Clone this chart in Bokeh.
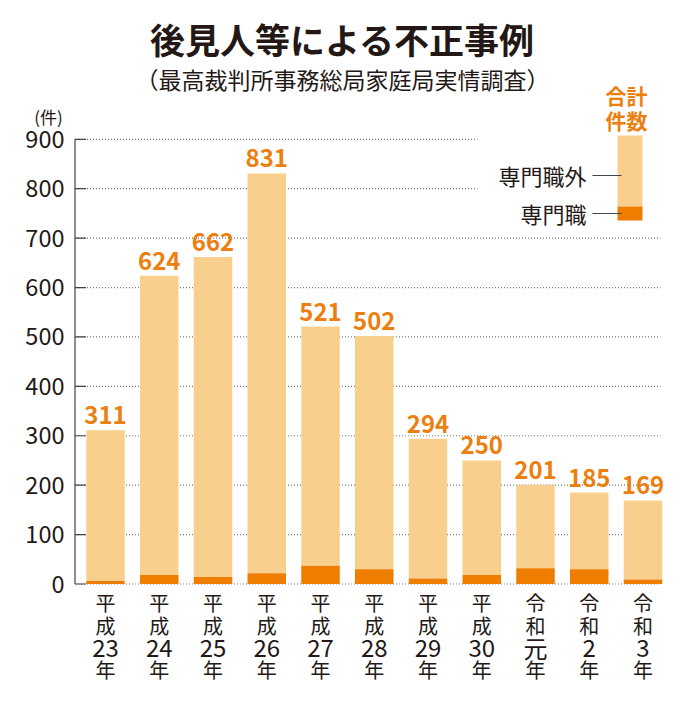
from bokeh.plotting import figure
from bokeh.models import ColumnDataSource, Range1d
from bokeh.core.properties import value
from bokeh.embed import file_html
from bokeh.resources import INLINE

# ---- data ----
years = ["平成23年", "平成24年", "平成25年", "平成26年", "平成27年", "平成28年",
         "平成29年", "平成30年", "令和元年", "令和2年", "令和3年"]
era = ["平成"] * 8 + ["令和"] * 3
year_num = ["23", "24", "25", "26", "27", "28", "29", "30", "元", "2", "3"]
totals = [311, 624, 662, 831, 521, 502, 294, 250, 201, 185, 169]
professional = [6, 18, 14, 22, 37, 30, 11, 18, 32, 30, 9]
y_ticks = [0, 100, 200, 300, 400, 500, 600, 700, 800, 900]

title_text = "後見人等による不正事例"
subtitle_text = "（最高裁判所事務総局家庭局実情調査）"
unit_text = "(件)"
legend_total = ["合計", "件数"]
legend_other = "専門職外"
legend_prof = "専門職"

# ---- styles ----
LIGHT = "#F9CF8E"
DARK = "#EE7D00"
ORANGE = "#EC7F0F"
INK = "#231815"
FONT = "Noto Sans CJK JP"

W, H = 667, 686
PX_X = 53.75
PX_Y = 0.4941
ZERO_PX = 583.5

xs = list(range(1, len(years) + 1))
x0 = 1 - 105 / PX_X
x1 = x0 + W / PX_X
y_top = ZERO_PX / PX_Y
y_bot = -(H - ZERO_PX) / PX_Y


def dx(px):
    return x0 + px / PX_X


def dy(py):
    return (ZERO_PX - py) / PX_Y


p = figure(width=W, height=H, output_backend="svg", toolbar_location=None,
           x_range=Range1d(x0, x1), y_range=Range1d(y_bot, y_top),
           min_border=0, outline_line_color=None,
           x_axis_location=None, y_axis_location=None)
p.xgrid.visible = False
p.ygrid.visible = False

# grid lines (dotted), behind bars
axis_x = dx(74.5)
short_end = dx(477)
long_end = dx(660)
gx0 = [axis_x] * len(y_ticks)
gx1 = [short_end if t >= 800 else long_end for t in y_ticks]
p.segment(x0=gx0, y0=y_ticks, x1=gx1, y1=y_ticks, line_color="#7a7a7a",
          line_width=1.2, line_dash="1 2")
# solid ticks inside + axis line
p.segment(x0=[axis_x] * len(y_ticks), y0=y_ticks,
          x1=[axis_x + 11 / PX_X] * len(y_ticks), y1=y_ticks,
          line_color="#444444", line_width=1.2)
p.segment(x0=[axis_x], y0=[0], x1=[axis_x], y1=[900], line_color="#444444", line_width=1.2)

# y tick labels and unit
p.text(x=[dx(64)] * len(y_ticks), y=y_ticks, text=[str(t) for t in y_ticks],
       text_align="right", text_baseline="middle", text_font=value(FONT),
       text_font_size="23.5px", text_color=INK)
p.text(x=[dx(48)], y=[dy(116)], text=[unit_text], text_align="center",
       text_baseline="middle", text_font=value(FONT), text_font_size="17px",
       text_color=INK)

src = ColumnDataSource(dict(x=xs, total=totals, prof=professional,
                            label=[str(t) for t in totals],
                            e1=[e[0] for e in era], e2=[e[1] for e in era],
                            num=year_num, nen=["年"] * len(xs),
                            zero=[0] * len(xs)))
BW = 38.5 / PX_X
p.vbar(x="x", bottom="prof", top="total", width=BW, source=src,
       fill_color=LIGHT, line_color=None)
p.vbar(x="x", bottom="zero", top="prof", width=BW, source=src,
       fill_color=DARK, line_color=None)

p.text(x="x", y="total", text="label", source=src, y_offset=-6,
       text_align="center", text_baseline="bottom", text_font=value(FONT),
       text_font_style="bold", text_font_size="24px", text_color=ORANGE)

# vertical x labels, one row at a time
rows = [("e1", 602, "20px"), ("e2", 624.5, "20px"), ("num", 647, "24px"), ("nen", 668.5, "20px")]
for col, cy, fs in rows:
    p.text(x="x", y="zero", text=col, source=src, y_offset=cy - ZERO_PX,
           text_align="center", text_baseline="middle", text_font=value(FONT),
           text_font_size=fs, text_color=INK)

# titles
cx = dx(342)
p.text(x=[cx], y=[dy(38)], text=[title_text], text_align="center",
       text_baseline="middle", text_font=value(FONT), text_font_style="bold",
       text_font_size="35px", text_color=INK)
p.text(x=[cx], y=[dy(78)], text=[subtitle_text], text_align="center",
       text_baseline="middle", text_font=value(FONT),
       text_font_size="23px", text_color=INK)

# legend
lx = dx(629.5)
lw = 25 / PX_X
p.vbar(x=[lx], bottom=[dy(206)], top=[dy(135)], width=lw, fill_color=LIGHT, line_color=None)
p.vbar(x=[lx], bottom=[dy(220)], top=[dy(206)], width=lw, fill_color=DARK, line_color=None)
p.segment(x0=[dx(592), dx(592)], y0=[dy(175), dy(213)], x1=[dx(621), dx(621)],
          y1=[dy(175), dy(213)], line_color="#444444", line_width=1.2)
p.text(x=[dx(586), dx(586)], y=[dy(174), dy(212)], text=[legend_other, legend_prof],
       text_align="right", text_baseline="middle", text_font=value(FONT),
       text_font_size="22px", text_color=INK)
p.text(x=[dx(626), dx(626)], y=[dy(94), dy(119)], text=legend_total, text_align="center",
       text_baseline="middle", text_font=value(FONT), text_font_style="bold",
       text_font_size="21px", text_color=ORANGE)

open("out.html", "w").write(file_html(p, INLINE))
